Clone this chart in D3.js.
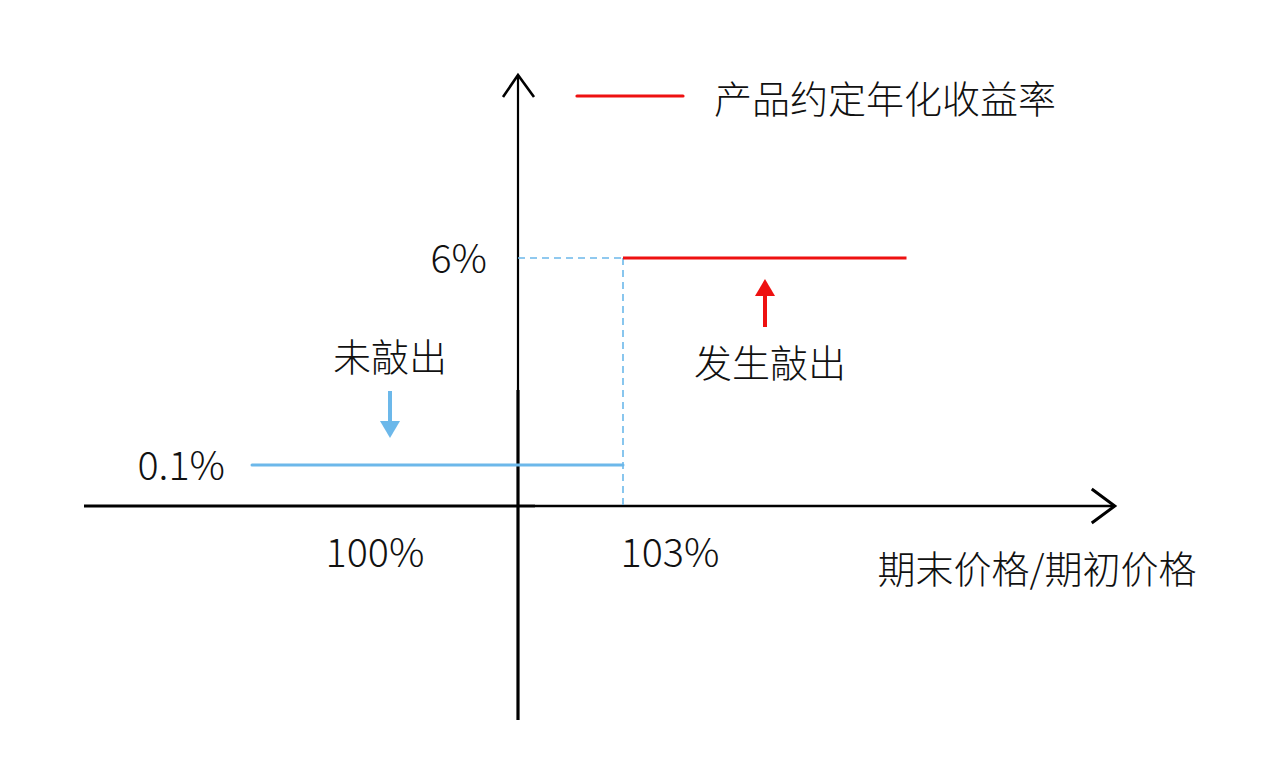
<!DOCTYPE html>
<html>
<head>
<meta charset="utf-8">
<script src="https://cdn.jsdelivr.net/npm/d3@7"></script>
<style>
  html, body { margin: 0; padding: 0; background: #fff; }
  svg { display: block; }
  text { font-family: "Noto Sans CJK SC", "Noto Sans", sans-serif; font-weight: 300; fill: #111; }
</style>
</head>
<body>
<svg id="chart" width="1279" height="777"></svg>
<script>
// ---- data ----
const xTickValues = [100, 103];
const xTickLabels = ["100%", "103%"];
const yTickValues = [0.1, 6];
const yTickLabels = ["0.1%", "6%"];
const notCalledSeries = [[92.4, 0.1], [103, 0.1]];   // 未敲出
const calledSeries = [[103, 6], [111.1, 6]];          // 发生敲出
const legendLabel = "产品约定年化收益率";
const xAxisTitle = "期末价格/期初价格";
const notCalledLabel = "未敲出";
const calledLabel = "发生敲出";

// ---- layout ----
const svg = d3.select("#chart");
const BLUE = "#6cb8ea";
const RED = "#ee1111";
const FS = 38;    // CJK text
const FSN = 39.5; // numeric labels

const x = d3.scaleLinear().domain([100, 103]).range([518, 623]);
const y = d3.scaleLinear().domain([-5.5, 0, 0.1, 6, 10.4]).range([720, 506, 465, 258, 75]);

const xMin = 87.6, xMax = 117.05;

// axes
const ax = svg.append("g");
ax.append("line").attr("x1", x(xMin)).attr("x2", x(100) + 17).attr("y1", y(0)).attr("y2", y(0))
  .attr("stroke", "#000").attr("stroke-width", 3);
ax.append("line").attr("x1", x(100) + 17).attr("x2", x(xMax)).attr("y1", y(0)).attr("y2", y(0))
  .attr("stroke", "#000").attr("stroke-width", 2.4);
ax.append("path")
  .attr("d", `M${x(xMax) - 23},${y(0) - 17} L${x(xMax)},${y(0)} L${x(xMax) - 23},${y(0) + 17}`)
  .attr("fill", "none").attr("stroke", "#000").attr("stroke-width", 3);
ax.append("line").attr("x1", x(100)).attr("x2", x(100)).attr("y1", y(10.4)).attr("y2", 390)
  .attr("stroke", "#000").attr("stroke-width", 2.2);
ax.append("line").attr("x1", x(100)).attr("x2", x(100)).attr("y1", 390).attr("y2", y(-5.5))
  .attr("stroke", "#000").attr("stroke-width", 3.2);
ax.append("path")
  .attr("d", `M${x(100) - 15},${y(10.4) + 22} L${x(100)},${y(10.4)} L${x(100) + 16},${y(10.4) + 22}`)
  .attr("fill", "none").attr("stroke", "#000").attr("stroke-width", 2.6);

// dashed guide lines
svg.append("line").attr("x1", x(100)).attr("x2", x(103)).attr("y1", y(6)).attr("y2", y(6))
  .attr("stroke", BLUE).attr("stroke-width", 1.6).attr("stroke-dasharray", "7,5");
svg.append("line").attr("x1", x(103)).attr("x2", x(103)).attr("y1", y(6)).attr("y2", y(0))
  .attr("stroke", BLUE).attr("stroke-width", 1.6).attr("stroke-dasharray", "7,5");

// series lines
const line = d3.line().x(d => x(d[0])).y(d => y(d[1]));
svg.append("path").datum(notCalledSeries).attr("d", line)
  .attr("fill", "none").attr("stroke", BLUE).attr("stroke-width", 3).attr("stroke-linecap", "round");
svg.append("path").datum(calledSeries).attr("d", line)
  .attr("fill", "none").attr("stroke", RED).attr("stroke-width", 3.2);

// tick labels
svg.selectAll("text.ytick").data(yTickValues).enter().append("text")
  .attr("class", "ytick")
  .attr("x", (d, i) => i === 0 ? 225 : 487)
  .attr("y", d => y(d) - 3)
  .attr("text-anchor", "end").attr("dominant-baseline", "central")
  .attr("font-size", FSN)
  .text((d, i) => yTickLabels[i]);

svg.selectAll("text.xtick").data(xTickValues).enter().append("text")
  .attr("class", "xtick")
  .attr("x", (d, i) => i === 0 ? x(d) - 143 : x(d) + 47)
  .attr("y", y(0) + 43)
  .attr("text-anchor", "middle").attr("dominant-baseline", "central")
  .attr("font-size", FSN)
  .text((d, i) => xTickLabels[i]);

// x axis title
svg.append("text").attr("x", 1037).attr("y", 566)
  .attr("text-anchor", "middle").attr("dominant-baseline", "central")
  .attr("font-size", FS).text(xAxisTitle);

// legend
svg.append("line").attr("x1", 577).attr("x2", 683).attr("y1", 96).attr("y2", 96)
  .attr("stroke", RED).attr("stroke-width", 3.2).attr("stroke-linecap", "round");
svg.append("text").attr("x", 714).attr("y", 96)
  .attr("dominant-baseline", "central").attr("font-size", FS).text(legendLabel);

// annotations
svg.append("text").attr("x", 390).attr("y", 354)
  .attr("text-anchor", "middle").attr("dominant-baseline", "central")
  .attr("font-size", FS).text(notCalledLabel);
svg.append("line").attr("x1", 390).attr("x2", 390).attr("y1", 391).attr("y2", 424)
  .attr("stroke", BLUE).attr("stroke-width", 4);
svg.append("path").attr("d", "M380,421 L400,421 L390,438 Z").attr("fill", BLUE);

svg.append("text").attr("x", 770).attr("y", 360)
  .attr("text-anchor", "middle").attr("dominant-baseline", "central")
  .attr("font-size", FS).text(calledLabel);
svg.append("line").attr("x1", 765).attr("x2", 765).attr("y1", 327).attr("y2", 293)
  .attr("stroke", RED).attr("stroke-width", 4);
svg.append("path").attr("d", "M755,296 L775,296 L765,279 Z").attr("fill", RED);
</script>
</body>
</html>
